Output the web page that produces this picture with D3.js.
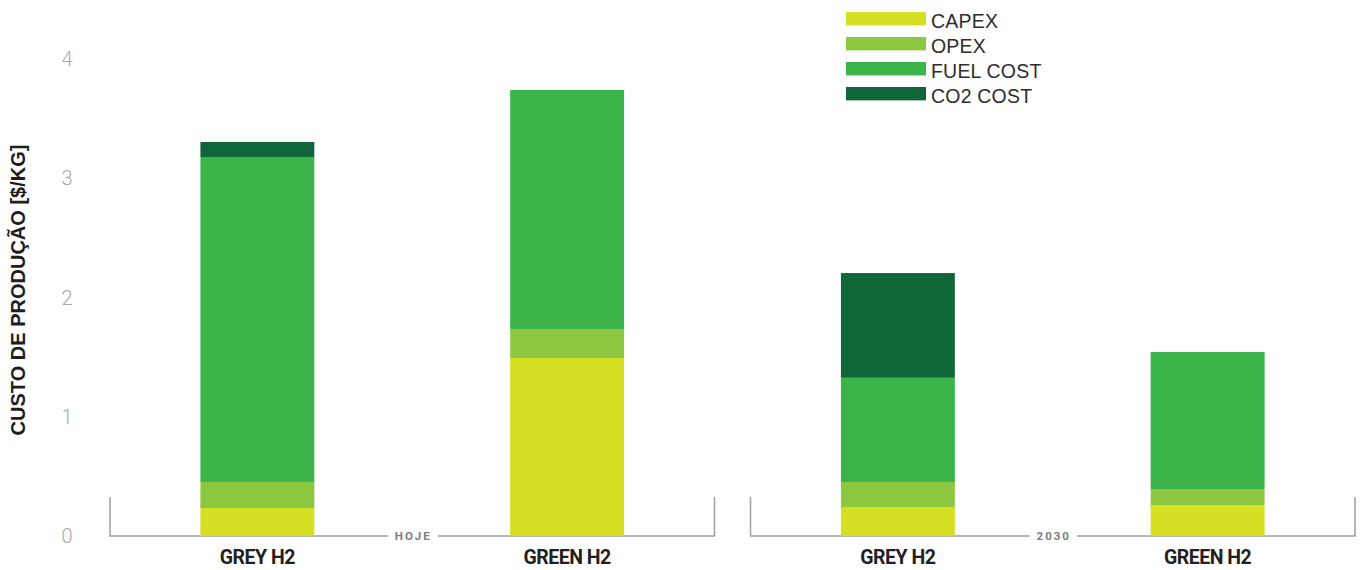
<!DOCTYPE html>
<html>
<head>
<meta charset="utf-8">
<script src="https://cdn.jsdelivr.net/npm/d3@7/dist/d3.min.js"></script>
<style>
  html, body { margin: 0; padding: 0; background: #fff; }
  svg { display: block; }
</style>
</head>
<body>
<svg id="chart" width="1363" height="570"></svg>
<script>
// ---- data ----
const periods = ["HOJE", "2030"];
const types = ["GREY H2", "GREEN H2"];
const seriesNames = ["CAPEX", "OPEX", "FUEL COST", "CO2 COST"];
// values per bar in order: HOJE/GREY, HOJE/GREEN, 2030/GREY, 2030/GREEN
const capex    = [0.235, 1.493, 0.243, 0.260];
const opex     = [0.218, 0.243, 0.210, 0.134];
const fuelCost = [2.725, 2.004, 0.874, 1.149];
const co2Cost  = [0.126, 0.000, 0.878, 0.000];
const yTicks = [0, 1, 2, 3, 4];
const yTitle = "CUSTO DE PRODUÇÃO [$/KG]";

const colors = ["#d7df23", "#8dc63f", "#3bb54a", "#0f6638"];

// build table
const rows = [];
periods.forEach((p, pi) => types.forEach((t, ti) => {
  const i = pi * types.length + ti;
  rows.push({ period: p, type: t, "CAPEX": capex[i], "OPEX": opex[i], "FUEL COST": fuelCost[i], "CO2 COST": co2Cost[i] });
}));
const stacked = d3.stack().keys(seriesNames)(rows);

const svg = d3.select("#chart");
const font = "Roboto, 'Liberation Sans', Arial, sans-serif";
const fontArial = "'Liberation Sans', Arial, Helvetica, sans-serif";

const y = d3.scaleLinear().domain([0, 4]).range([536, 59]);
const xGroup = d3.scaleBand().domain(periods).range([110, 1355]).paddingInner(35 / 622.5).paddingOuter(0);
const xInner = d3.scaleBand().domain(types).range([0, xGroup.bandwidth()])
  .paddingInner(196 / 310).paddingOuter(0.2919);

// y tick labels
svg.append("g").selectAll("text").data(yTicks).join("text")
  .attr("x", 67).attr("y", d => y(d)).attr("dy", "0.35em")
  .attr("text-anchor", "middle")
  .attr("font-family", font).attr("font-size", 20).attr("font-weight", 300)
  .attr("fill", "#a8a8a8")
  .text(d => d);

// y title
svg.append("text")
  .attr("transform", `translate(25,290) rotate(-90)`)
  .attr("text-anchor", "middle")
  .attr("font-family", fontArial).attr("font-size", 20).attr("font-weight", 700)
  .attr("fill", "#1e1e1e")
  .text(yTitle);

// brackets
const brackets = svg.append("g");
periods.forEach(p => {
  const x0 = xGroup(p), x1 = x0 + xGroup.bandwidth(), cx = (x0 + x1) / 2;
  const g = brackets.append("g");
  const label = g.append("text")
    .attr("x", cx + 1).attr("y", y(0)).attr("dy", "0.36em")
    .attr("text-anchor", "middle")
    .attr("font-family", font).attr("font-size", 11.5).attr("font-weight", 700)
    .attr("letter-spacing", 2)
    .attr("fill", "#7d7d80")
    .text(p);
  const bb = label.node().getBBox();
  const gapL = bb.x - 7, gapR = bb.x + bb.width + 6;
  g.append("path")
    .attr("d", `M${x0},${y(0) - 39}V${y(0)}H${gapL}M${gapR},${y(0)}H${x1}V${y(0) - 39}`)
    .attr("fill", "none").attr("stroke", "#a0a0a2").attr("stroke-width", 1.5);
});

// bars
svg.append("g").selectAll("g").data(stacked).join("g")
  .attr("fill", (d, i) => colors[i])
  .selectAll("rect").data(d => d).join("rect")
  .attr("x", d => xGroup(d.data.period) + xInner(d.data.type))
  .attr("width", xInner.bandwidth())
  .attr("y", d => y(d[1]))
  .attr("height", d => y(d[0]) - y(d[1]));

// category labels
svg.append("g").selectAll("text").data(rows).join("text")
  .attr("x", d => xGroup(d.period) + xInner(d.type) + xInner.bandwidth() / 2)
  .attr("y", 564)
  .attr("text-anchor", "middle")
  .attr("font-family", font).attr("font-size", 19.5).attr("font-weight", 700)
  .attr("letter-spacing", -0.5)
  .attr("fill", "#231f20")
  .text(d => d.type);

// legend
const legend = svg.append("g").attr("transform", "translate(846,12)");
const li = legend.selectAll("g").data(seriesNames).join("g")
  .attr("transform", (d, i) => `translate(0,${i * 25})`);
li.append("rect").attr("width", 80).attr("height", 13.4).attr("fill", (d, i) => colors[i]);
li.append("text").attr("x", 85).attr("y", 8.5).attr("dy", "0.36em")
  .attr("font-family", fontArial).attr("font-size", 19.5)
  .attr("letter-spacing", 0.2)
  .attr("fill", "#2d2d2d")
  .text(d => d);
</script>
</body>
</html>
